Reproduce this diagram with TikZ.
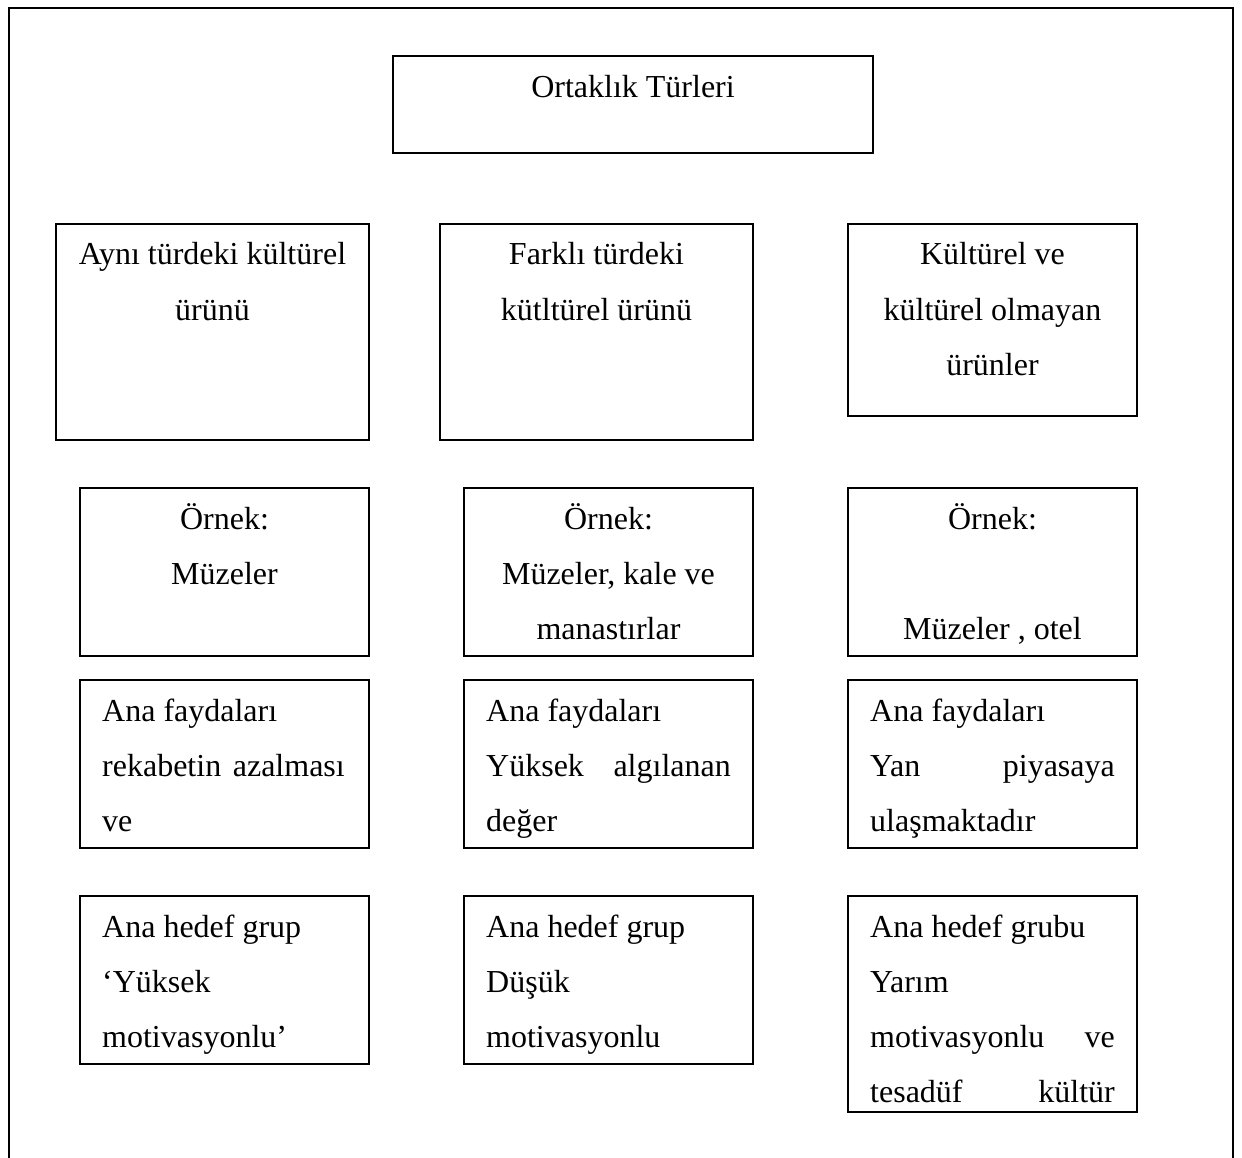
\documentclass[tikz,border=0pt]{standalone}
\usepackage{fontspec}
\setmainfont{Liberation Serif}
\usetikzlibrary{fit}
\begin{document}
\begin{tikzpicture}[x=1pt,y=-1pt,
  bx/.style={draw=black, line width=1.6pt, inner sep=0pt, fit={#1}},
  txt/.style={inner sep=0pt, font=\fontsize{32}{40}\selectfont},
  ctr/.style={txt, anchor=base},
  lft/.style={txt, anchor=base west},
  rgt/.style={txt, anchor=base east}]
\useasboundingbox (0,0) rectangle (1242,1158);
% outer frame (bottom edge lies outside the picture)
\coordinate (f1) at (9,1160);
\coordinate (f2) at (9,8);
\coordinate (f3) at (1233,8);
\coordinate (f4) at (1233,1160);
\draw[line width=2pt] (f1) -- (f2) -- (f3) -- (f4);
% title
\node[bx={(393,56) (873,153)}] (title) {};
\node[ctr] (titlet) at (633,98) {Ortaklık Türleri};
% row 1
\node[bx={(56,224) (369,440)}] (a1) {};
\node[ctr] (a1t1) at (212.5,265) {Aynı türdeki kültürel};
\node[ctr] (a1t2) at (212.5,320) {ürünü};
\node[bx={(440,224) (753,440)}] (b1) {};
\node[ctr] (b1t1) at (596.5,265) {Farklı türdeki};
\node[ctr] (b1t2) at (596.5,320) {kütltürel ürünü};
\node[bx={(848,224) (1137,416)}] (c1) {};
\node[ctr] (c1t1) at (992.5,265) {Kültürel ve};
\node[ctr] (c1t2) at (992.5,320) {kültürel olmayan};
\node[ctr] (c1t3) at (992.5,375) {ürünler};
% row 2
\node[bx={(80,488) (369,656)}] (a2) {};
\node[ctr] (a2t1) at (224.5,529) {Örnek:};
\node[ctr] (a2t2) at (224.5,584) {Müzeler};
\node[bx={(464,488) (753,656)}] (b2) {};
\node[ctr] (b2t1) at (608.5,529) {Örnek:};
\node[ctr] (b2t2) at (608.5,584) {Müzeler, kale ve};
\node[ctr] (b2t3) at (608.5,639) {manastırlar};
\node[bx={(848,488) (1137,656)}] (c2) {};
\node[ctr] (c2t1) at (992.5,529) {Örnek:};
\node[ctr] (c2t2) at (992.5,639) {Müzeler , otel};
% row 3
\node[bx={(80,680) (369,848)}] (a3) {};
\node[lft] (a3t1) at (102,721) {Ana faydaları};
\node[lft] (a3t2) at (102,776) {rekabetin};
\node[rgt] (a3t2b) at (345,776) {azalması};
\node[lft] (a3t3) at (102,831) {ve};
\node[bx={(464,680) (753,848)}] (b3) {};
\node[lft] (b3t1) at (486,721) {Ana faydaları};
\node[lft] (b3t2) at (486,776) {Yüksek};
\node[rgt] (b3t2b) at (731,776) {algılanan};
\node[lft] (b3t3) at (486,831) {değer};
\node[bx={(848,680) (1137,848)}] (c3) {};
\node[lft] (c3t1) at (870,721) {Ana faydaları};
\node[lft] (c3t2) at (870,776) {Yan};
\node[rgt] (c3t2b) at (1115,776) {piyasaya};
\node[lft] (c3t3) at (870,831) {ulaşmaktadır};
% row 4
\node[bx={(80,896) (369,1064)}] (a4) {};
\node[lft] (a4t1) at (102,937) {Ana hedef grup};
\node[lft] (a4t2) at (102,992) {‘Yüksek};
\node[lft] (a4t3) at (102,1047) {motivasyonlu’};
\node[bx={(464,896) (753,1064)}] (b4) {};
\node[lft] (b4t1) at (486,937) {Ana hedef grup};
\node[lft] (b4t2) at (486,992) {Düşük};
\node[lft] (b4t3) at (486,1047) {motivasyonlu};
\node[bx={(848,896) (1137,1112)}] (c4) {};
\node[lft] (c4t1) at (870,937) {Ana hedef grubu};
\node[lft] (c4t2) at (870,992) {Yarım};
\node[lft] (c4t3) at (870,1047) {motivasyonlu};
\node[rgt] (c4t3b) at (1115,1047) {ve};
\node[lft] (c4t4) at (870,1102) {tesadüf};
\node[rgt] (c4t4b) at (1115,1102) {kültür};
\end{tikzpicture}
\end{document}
